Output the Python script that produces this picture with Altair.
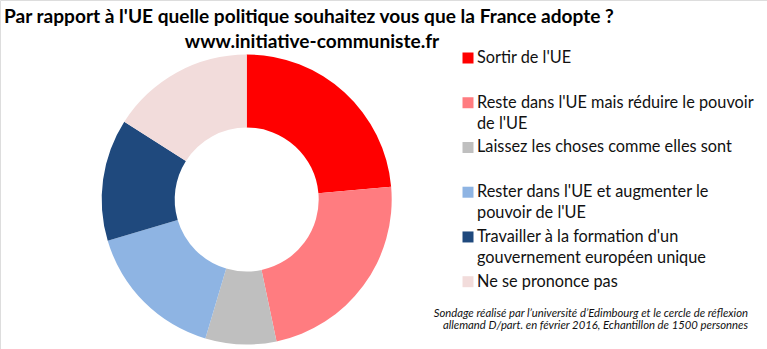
import altair as alt
import pandas as pd

# ---- data ----
categories = [
    "Sortir de l'UE",
    "Reste dans l'UE mais réduire le pouvoir de l'UE",
    "Laissez les choses comme elles sont",
    "Rester dans l'UE et augmenter le pouvoir de l'UE",
    "Travailler à la formation d'un gouvernement européen unique",
    "Ne se prononce pas",
]
legend_labels = [
    "Sortir de l'UE",
    "Reste dans l'UE mais réduire le pouvoir\nde l'UE",
    "Laissez les choses comme elles sont",
    "Rester dans l'UE et augmenter le\npouvoir de l'UE",
    "Travailler à la formation d'un\ngouvernement européen unique",
    "Ne se prononce pas",
]
values = [23.6, 23.1, 7.9, 15.8, 13.6, 16.0]
colors = ["#FF0000", "#FF7C80", "#BFBFBF", "#8EB4E3", "#1F497D", "#F2DCDB"]

title_text = "Par rapport à l'UE quelle politique souhaitez vous que la France adopte ?"
site_text = "www.initiative-communiste.fr"
source_lines = [
    "Sondage réalisé par l’université d’Edimbourg et le cercle de réflexion",
    "allemand D/part. en février 2016, Echantillon de 1500 personnes",
]

FONT = "Lato"

df = pd.DataFrame({
    "cat": categories,
    "label": legend_labels,
    "value": values,
    "order": list(range(len(categories))),
})

color = alt.Color("cat:N", scale=alt.Scale(domain=categories, range=colors), legend=None)
base = alt.Chart(df)

donut = base.mark_arc(innerRadius=72, outerRadius=145).encode(
    theta=alt.Theta("value:Q", stack=True),
    order=alt.Order("order:Q", sort="ascending"),
    color=color,
    x=alt.value(246.7),
    y=alt.value(199.5),
)

ypos = alt.Y("order:O", scale=alt.Scale(type="point", range=[63, 286.7], padding=0), axis=None)

squares = base.mark_square(size=121, opacity=1, yOffset=-5).encode(
    x=alt.value(468),
    y=ypos,
    color=color,
)

labels = base.mark_text(
    align="left", baseline="alphabetic", lineBreak="\n", lineHeight=21,
    fontSize=16.3, font=FONT, color="#111111",
).encode(
    x=alt.value(477),
    y=ypos,
    text="label:N",
)

title = alt.Chart(pd.DataFrame({"t": [title_text]})).mark_text(
    align="left", baseline="alphabetic", fontSize=19.1, font=FONT,
    fontWeight="bold", color="#000000",
).encode(x=alt.value(4), y=alt.value(22.7), text="t:N")

site = alt.Chart(pd.DataFrame({"t": [site_text]})).mark_text(
    align="center", baseline="alphabetic", fontSize=19.1, font=FONT,
    fontWeight="bold", color="#000000",
).encode(x=alt.value(312), y=alt.value(47.7), text="t:N")

src_df = pd.DataFrame({"t": source_lines, "line": [0, 1]})
source = alt.Chart(src_df).mark_text(
    align="right", baseline="alphabetic", fontSize=11.3, font=FONT,
    fontStyle="italic", color="#111111",
).encode(
    x=alt.value(748),
    y=alt.Y("line:O", scale=alt.Scale(type="point", range=[316.5, 328.7], padding=0), axis=None),
    text="t:N",
)

chart = alt.layer(donut, squares, labels, title, site, source).resolve_scale(
    y="independent"
).properties(
    width=767,
    height=349,
    padding=0,
    autosize=alt.AutoSizeParams(type="none"),
).configure_view(stroke=None).configure(background="white")

chart.save("out.html", embed_options={"renderer": "svg", "actions": False})
